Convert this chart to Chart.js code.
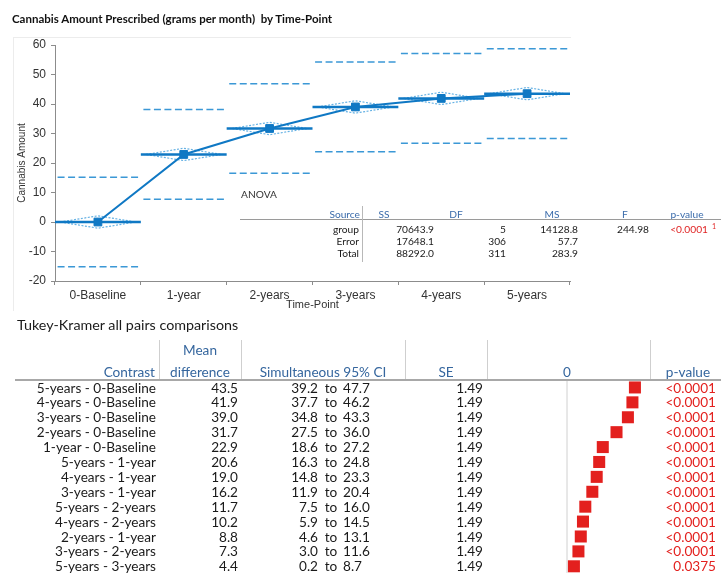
<!DOCTYPE html>
<html>
<head>
<meta charset="utf-8">
<script src="https://cdn.jsdelivr.net/npm/chart.js@4.4.1/dist/chart.umd.min.js"></script>
<style>
  html, body { margin: 0; padding: 0; background: #fff; }
  body { position: relative; width: 721px; height: 573px; overflow: hidden; font-family: Lato, "Open Sans", sans-serif; }
  .t { position: absolute; white-space: nowrap; height: 20px; line-height: 20px; }
  .rule { position: absolute; }
  #frame { position: absolute; left: 13px; top: 37px; width: 557px; height: 273px;
           border-left: 1px solid #ececec; border-top: 1px solid #ececec; }
  #main { position: absolute; left: 0; top: 0; }
  #forest { position: absolute; left: 487px; top: 380px; }
</style>
</head>
<body>
<div id="frame"></div>
<canvas id="main" width="721" height="320"></canvas>
<canvas id="forest" width="164" height="193"></canvas>

<script>
// ---- Group summary: cannabis amount by time-point ----
const timePoints = ['0-Baseline', '1-year', '2-years', '3-years', '4-years', '5-years'];
const groupMeans = [0.0, 22.9, 31.7, 39.0, 41.9, 43.5];
const meanCI     = [2.1, 2.1, 2.1, 2.1, 2.1, 2.1];      // half-width of the 95% CI diamonds
const bandUpper  = [15.2, 38.1, 46.9, 54.2, 57.1, 58.7]; // mean + 2 SD
const bandLower  = [-15.2, 7.7, 16.5, 23.8, 26.7, 28.3]; // mean - 2 SD
const yMin = -20, yMax = 60, yStep = 10;

// ---- ANOVA table ----
const anovaHeader = ['Source', 'SS', 'DF', 'MS', 'F', 'p-value'];
const anovaSource = ['group', 'Error', 'Total'];
const anovaSS     = ['70643.9', '17648.1', '88292.0'];
const anovaDF     = ['5', '306', '311'];
const anovaMS     = ['14128.8', '57.7', '283.9'];
const anovaF      = ['244.98', '', ''];
const anovaP      = ['<0.0001', '', ''];

// ---- Tukey-Kramer all pairs comparisons ----
const contrasts = ['5-years - 0-Baseline', '4-years - 0-Baseline', '3-years - 0-Baseline',
  '2-years - 0-Baseline', '1-year - 0-Baseline', '5-years - 1-year', '4-years - 1-year',
  '3-years - 1-year', '5-years - 2-years', '4-years - 2-years', '2-years - 1-year',
  '3-years - 2-years', '5-years - 3-years'];
const meanDiff = [43.5, 41.9, 39.0, 31.7, 22.9, 20.6, 19.0, 16.2, 11.7, 10.2, 8.8, 7.3, 4.4];
const ciLow    = [39.2, 37.7, 34.8, 27.5, 18.6, 16.3, 14.8, 11.9, 7.5, 5.9, 4.6, 3.0, 0.2];
const ciHigh   = [47.7, 46.2, 43.3, 36.0, 27.2, 24.8, 23.3, 20.4, 16.0, 14.5, 13.1, 11.6, 8.7];
const stdErr   = [1.49, 1.49, 1.49, 1.49, 1.49, 1.49, 1.49, 1.49, 1.49, 1.49, 1.49, 1.49, 1.49];
const pValues  = ['<0.0001', '<0.0001', '<0.0001', '<0.0001', '<0.0001', '<0.0001', '<0.0001',
  '<0.0001', '<0.0001', '<0.0001', '<0.0001', '<0.0001', '0.0375'];

// ---------- text helpers ----------
const BODY_W = 721;
function put(text, x, y, o) {
  o = o || {};
  const d = document.createElement('div');
  d.className = 't';
  d.textContent = text;
  d.style.font = (o.weight || 400) + ' ' + (o.size || 13.3) + 'px ' + (o.family || 'Lato, "Open Sans", sans-serif');
  d.style.lineHeight = '20px';
  d.style.top = (y - 10) + 'px';
  d.style.color = o.color || '#1a1a1a';
  if (o.align === 'right') {
    d.style.right = (BODY_W - x) + 'px';
  } else if (o.align === 'center') {
    d.style.left = (x - 150) + 'px';
    d.style.width = '300px';
    d.style.textAlign = 'center';
  } else {
    d.style.left = x + 'px';
  }
  document.body.appendChild(d);
  return d;
}
function rule(x, y, w, h, color) {
  const d = document.createElement('div');
  d.className = 'rule';
  Object.assign(d.style, { left: x + 'px', top: y + 'px', width: w + 'px', height: h + 'px', background: color });
  document.body.appendChild(d);
}

// ---------- title ----------
put('Cannabis Amount Prescribed (grams per month)\u00a0 by Time-Point', 12, 19, { weight: 700, size: 11.5, color: '#111' });

// ---------- main chart ----------
const lineBlue = '#0f78c4', dashBlue = '#3b98d6', dotBlue = '#66b2e4';

function segments(values, half) {
  const pts = [];
  values.forEach((v, i) => {
    pts.push({ x: i - half, y: v }, { x: i + half, y: v }, { x: i + half, y: null });
  });
  return pts;
}
function diamondPoints() {
  const pts = [];
  groupMeans.forEach((m, i) => {
    const c = meanCI[i], w = 0.44;
    pts.push({ x: i - w, y: m }, { x: i, y: m + c }, { x: i + w, y: m }, { x: i, y: m - c },
             { x: i - w, y: m }, { x: i, y: null });
  });
  return pts;
}

const axisFont = { family: '"Liberation Sans", Arial, sans-serif', size: 12 };
const axisGray = '#8c8c8c';

new Chart(document.getElementById('main'), {
  type: 'line',
  data: {
    labels: timePoints,
    datasets: [
      { // means joined across time-points
        data: groupMeans.map((m, i) => ({ x: i, y: m })),
        xAxisID: 'x2', borderColor: lineBlue, borderWidth: 2,
        pointStyle: 'rect', pointRadius: 5.5, pointBorderWidth: 1,
        pointBackgroundColor: lineBlue, pointBorderColor: lineBlue
      },
      { // mean line across each group
        data: segments(groupMeans, 0.5), xAxisID: 'x2',
        borderColor: lineBlue, borderWidth: 2.5, pointRadius: 0, spanGaps: false
      },
      { // upper band
        data: segments(bandUpper, 0.47), xAxisID: 'x2',
        borderColor: dashBlue, borderWidth: 1.5, borderDash: [7, 3.5], pointRadius: 0, spanGaps: false
      },
      { // lower band
        data: segments(bandLower, 0.47), xAxisID: 'x2',
        borderColor: dashBlue, borderWidth: 1.5, borderDash: [7, 3.5], pointRadius: 0, spanGaps: false
      },
      { // confidence diamonds
        data: diamondPoints(), xAxisID: 'x2',
        borderColor: dotBlue, borderWidth: 1.2, borderDash: [2, 1.5], pointRadius: 0, spanGaps: false
      }
    ]
  },
  options: {
    responsive: false, animation: false, devicePixelRatio: 1, events: [],
    layout: { autoPadding: false, padding: { left: 0, top: 45, right: 151, bottom: 8 } },
    plugins: { legend: { display: false }, tooltip: { enabled: false }, title: { display: false } },
    scales: {
      x: {
        type: 'category', position: 'bottom', offset: true,
        grid: { offset: true, drawOnChartArea: false, drawTicks: true, tickLength: 4, color: axisGray },
        border: { color: axisGray },
        ticks: { font: axisFont, color: '#333', padding: 3, maxRotation: 0, autoSkip: false },
        title: { display: true, text: 'Time-Point', font: { family: axisFont.family, size: 11 }, color: '#333',
                 padding: { top: 0, bottom: 0 } },
        afterFit: s => { s.height = 31; }
      },
      x2: { type: 'linear', display: false, min: -0.5, max: timePoints.length - 0.5 },
      y: {
        type: 'linear', min: yMin, max: yMax,
        grid: { drawOnChartArea: false, drawTicks: true, tickLength: 4, color: axisGray },
        border: { color: axisGray },
        ticks: { stepSize: yStep, font: axisFont, color: '#333', padding: 5 },
        title: { display: true, text: 'Cannabis Amount', font: { family: axisFont.family, size: 10 }, color: '#333',
                 padding: { top: 16, bottom: 0 } },
        afterFit: s => { s.width = 55; }
      }
    }
  }
});

// ---------- ANOVA table ----------
const aHead = '#3b6cab', aFont = 10.2;
put('ANOVA', 241, 194, { size: aFont, color: '#333' });
put(anovaHeader[0], 360, 214, { size: aFont, color: aHead, align: 'right' });
put(anovaHeader[1], 384, 214, { size: aFont, color: aHead, align: 'center' });
put(anovaHeader[2], 456, 214, { size: aFont, color: aHead, align: 'center' });
put(anovaHeader[3], 552, 214, { size: aFont, color: aHead, align: 'center' });
put(anovaHeader[4], 625, 214, { size: aFont, color: aHead, align: 'center' });
put(anovaHeader[5], 687, 214, { size: aFont, color: aHead, align: 'center' });
rule(240, 219, 481, 1, '#9a9a9a');
rule(362, 206, 1, 56, '#b8b8b8');
anovaSource.forEach((src, r) => {
  const y = 229 + r * 11.8;
  put(src, 359, y, { size: aFont, align: 'right' });
  put(anovaSS[r], 434, y, { size: aFont, align: 'right' });
  put(anovaDF[r], 506, y, { size: aFont, align: 'right' });
  put(anovaMS[r], 578, y, { size: aFont, align: 'right' });
  if (anovaF[r]) put(anovaF[r], 649, y, { size: aFont, align: 'right' });
  if (anovaP[r]) {
    put(anovaP[r], 708, y, { size: aFont, align: 'right', color: '#e02424' });
    put('1', 712, y - 3, { size: 7, color: '#e02424' });
  }
});

// ---------- Tukey-Kramer table ----------
const tHead = '#35669e', tFont = 13.6, red = '#e3201e';
put('Tukey-Kramer all pairs comparisons', 17, 325, { size: 14.3, color: '#1a1a1a' });
put('Mean', 200, 350, { size: tFont, color: tHead, align: 'center' });
put('Contrast', 155, 372, { size: tFont, color: tHead, align: 'right' });
put('difference', 200, 372, { size: tFont, color: tHead, align: 'center' });
put('Simultaneous 95% CI', 323, 372, { size: tFont, color: tHead, align: 'center' });
put('SE', 446, 372, { size: tFont, color: tHead, align: 'center' });
put('0', 567, 372, { size: tFont, color: tHead, align: 'center' });
put('p-value', 688, 372, { size: tFont, color: tHead, align: 'center' });
[159, 241, 405, 487, 650].forEach(x => rule(x, 340, 1, 39, '#cfcfcf'));
rule(15, 379, 706, 1.5, '#a8a8a8');

contrasts.forEach((c, i) => {
  const y = 387.5 + i * 14.9;
  put(c, 156, y, { size: tFont, align: 'right' });
  put(meanDiff[i].toFixed(1), 238, y, { size: tFont, align: 'right' });
  put(ciLow[i].toFixed(1), 318, y, { size: tFont, align: 'right' });
  put('to', 331, y, { size: tFont, align: 'center' });
  put(ciHigh[i].toFixed(1), 343, y, { size: tFont });
  put(stdErr[i].toFixed(2), 483, y, { size: tFont, align: 'right' });
  put(pValues[i], 716, y, { size: tFont, align: 'right', color: red });
});

// mean differences plotted against zero
new Chart(document.getElementById('forest'), {
  type: 'scatter',
  data: {
    datasets: [
      {
        data: meanDiff.map((d, i) => ({ x: d, y: i })),
        pointStyle: 'rect', pointRadius: 8.5, pointHoverRadius: 8.5, pointBorderWidth: 0,
        backgroundColor: red, borderColor: red, clip: false
      },
      {
        type: 'line', data: [{ x: 0, y: -0.5 }, { x: 0, y: contrasts.length }],
        borderColor: '#e4e4e4', borderWidth: 1, pointRadius: 0
      }
    ]
  },
  options: {
    responsive: false, animation: false, devicePixelRatio: 1, events: [],
    layout: { autoPadding: false, padding: 0 },
    plugins: { legend: { display: false }, tooltip: { enabled: false } },
    scales: {
      x: { type: 'linear', display: false, min: -51.3, max: 53.8 },
      y: { type: 'linear', display: false, min: -0.5, max: 12.45, reverse: true }
    }
  }
});
</script>
</body>
</html>
